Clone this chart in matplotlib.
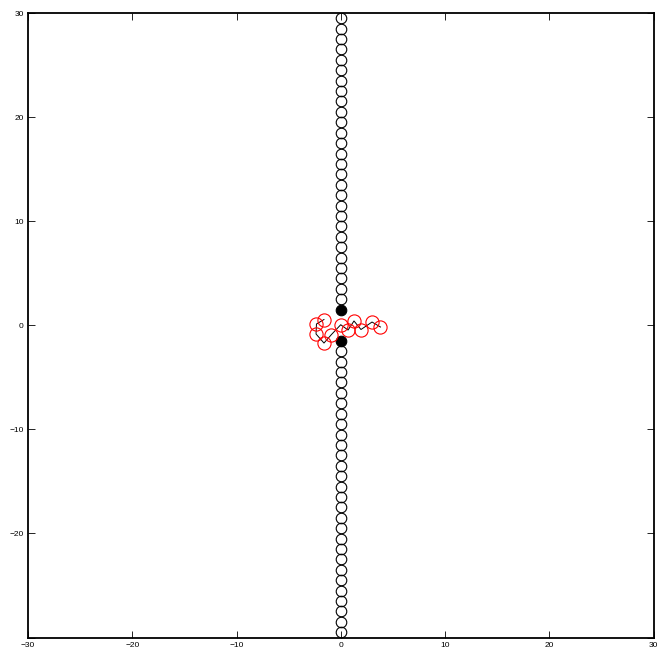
import matplotlib
matplotlib.use("Agg")
import matplotlib.pyplot as plt

plt.rcParams['font.family'] = ['Liberation Sans', 'DejaVu Sans']

# Wall beads along x = 0 (open circles)
wall_y = [29.5, 28.5, 27.5, 26.5, 25.5, 24.5, 23.5, 22.5, 21.5, 20.5,
          19.5, 18.5, 17.5, 16.5, 15.5, 14.5, 13.5, 12.5, 11.5, 10.5,
          9.5, 8.5, 7.5, 6.5, 5.5, 4.5, 3.5, 2.5,
          -2.5, -3.5, -4.5, -5.5, -6.5, -7.5, -8.5, -9.5, -10.5,
          -11.5, -12.5, -13.5, -14.5, -15.5, -16.5, -17.5, -18.5, -19.5,
          -20.5, -21.5, -22.5, -23.5, -24.5, -25.5, -26.5, -27.5, -28.5, -29.5]
wall_x = [0.0] * len(wall_y)

# Pore beads (filled)
pore_x = [0.0, 0.0]
pore_y = [1.5, -1.5]

# Polymer chain monomers
chain_x = [-1.61, -2.33, -2.37, -1.61, -0.89, 0.00, 0.70, 1.27, 1.94, 3.00, 3.81]
chain_y = [0.55, 0.12, -0.84, -1.71, -0.89, 0.05, -0.46, 0.41, -0.41, 0.31, -0.17]

x_ticks = [-30, -20, -10, 0, 10, 20, 30]
x_labels = ['\u221230', '\u221220', '\u221210', '0', '10', '20', '30']
y_ticks = [-30, -20, -10, 0, 10, 20, 30]
y_labels = ['', '\u221220', '\u221210', '0', '10', '20', '30']

fig = plt.figure(figsize=(6.57, 6.54), dpi=100)
ax = fig.add_axes([28 / 657, 16.5 / 654, 625.5 / 657, 624.5 / 654])

ax.plot(wall_x, wall_y, linestyle='none', marker='o', markersize=7.6,
        markerfacecolor='none', markeredgecolor='black', markeredgewidth=0.8)
ax.plot(pore_x, pore_y, linestyle='none', marker='o', markersize=7.6,
        markerfacecolor='black', markeredgecolor='black', markeredgewidth=0.8)
ax.plot(chain_x, chain_y, color='black', linewidth=0.7)
ax.plot(chain_x, chain_y, linestyle='none', marker='o', markersize=9.5,
        markerfacecolor='none', markeredgecolor='red', markeredgewidth=0.8)

ax.set_xlim(-30, 30)
ax.set_ylim(-30, 30)
ax.set_xticks(x_ticks)
ax.set_xticklabels(x_labels)
ax.set_yticks(y_ticks)
ax.set_yticklabels(y_labels)
ax.tick_params(direction='in', length=5, width=0.6, labelsize=6,
               top=True, right=True, pad=3, colors='black')
for s in ax.spines.values():
    s.set_linewidth(1.3)

fig.savefig('out.png', dpi=100)
